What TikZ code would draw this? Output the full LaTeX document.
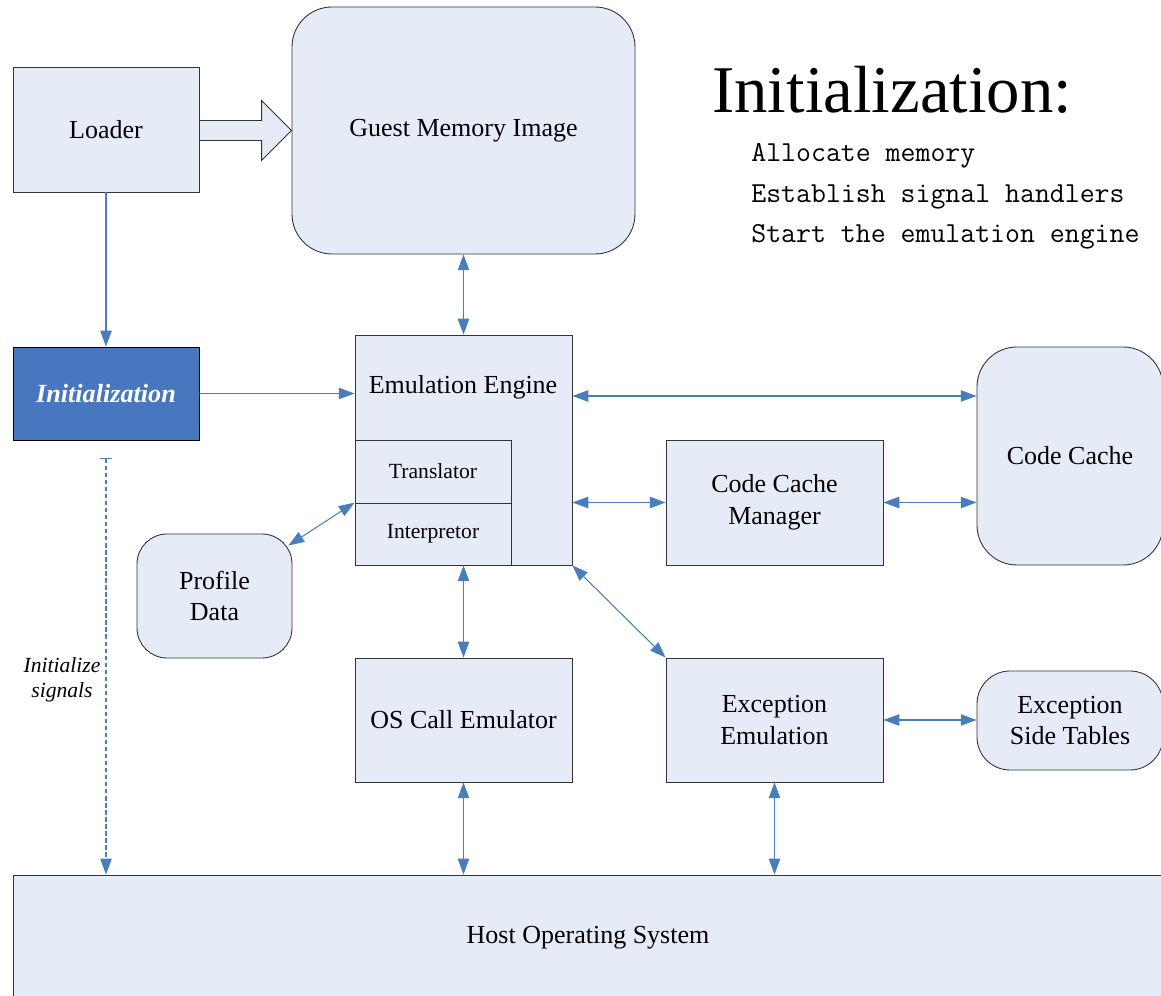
\documentclass[tikz,border=0pt]{standalone}
\usepackage{fontspec}
\setmainfont{Liberation Serif}
\usetikzlibrary{arrows.meta,calc}
\definecolor{boxfill}{HTML}{E6ECF7}
\definecolor{connblue}{HTML}{4A7EBB}
\definecolor{initfill}{HTML}{4677BF}
\begin{document}
\begin{tikzpicture}[x=0.02cm,y=-0.02cm,
  box/.style={draw=black!80, fill=boxfill, line width=0.5pt, inner sep=0pt,
    font=\fontsize{14.8}{18}\selectfont, align=center},
  rbox/.style={box, rounded corners=#1},
  sz/.style n args={2}{minimum width=#1*0.02cm, minimum height=#2*0.02cm},
  small/.style={font=\fontsize{12.3}{14}\selectfont},
  biarr/.style={draw=connblue, line width=0.6pt,
    {Triangle[length=9pt,width=6.5pt]}-{Triangle[length=9pt,width=6.5pt]}},
  onearr/.style={draw=connblue, line width=0.6pt, -{Triangle[length=9pt,width=6.5pt]}},
  bigarrow/.style={draw=black!80, fill=boxfill, line width=0.5pt},
  mono/.style={anchor=base west, inner sep=0pt, font=\ttfamily\fontsize{16.5}{20}\selectfont}
]
\useasboundingbox (0,0) rectangle (1161,996);

% nodes
\node[box, sz={186}{125}] (loader) at (106,129.5) {Loader};
\node[rbox=0.8cm, sz={343}{247}] (guest) at (463.5,130.5) {Guest Memory Image};
\node[box, draw=black, fill=initfill, text=white, sz={186}{93},
  font=\bfseries\itshape\fontsize{14.9}{18}\selectfont] (init) at (106,393.5) {Initialization};
\node[box, sz={217}{230}] (emu) at (463.5,450) {};
\node[inner sep=0pt, font=\fontsize{14.8}{18}\selectfont] (emut) at (463,387) {Emulation Engine};
\node[box, small, sz={156}{63}] (trans) at (433,471.5) {Translator};
\node[box, small, sz={156}{62}] (interp) at (433,534) {Interpretor};
\node[rbox=0.8cm, sz={186}{218}] (cc) at (1070,456) {Code Cache};
\node[box, sz={217}{125}] (ccm) at (774.5,502.5) {Code Cache\\Manager};
\node[rbox=0.6cm, sz={155}{124}] (prof) at (214.5,596) {Profile\\Data};
\node[box, sz={217}{124}] (os) at (463.5,720) {OS Call Emulator};
\node[box, sz={217}{124}] (exc) at (774.5,720) {Exception\\Emulation};
\node[rbox=0.66cm, sz={186}{99}] (est) at (1070,720.5) {Exception\\Side Tables};
\node[box, sz={1150}{126}] (host) at (588,938) {Host Operating System};

% title and steps
\node[anchor=base west, inner sep=0pt, font=\fontsize{38}{40}\selectfont] (title) at (712,113) {Initialization:};
\node[mono] (s1) at (751,162) {Allocate memory};
\node[mono] (s2) at (751,203) {Establish signal handlers};
\node[mono] (s3) at (751,243) {Start the emulation engine};

% big arrow loader -> guest
\draw[bigarrow] ($(loader.east |- guest.west)+(0,-10)$) -- ($(guest.west)+(-30,-10)$)
  -- ($(guest.west)+(-30,-30)$) -- (guest.west) -- ($(guest.west)+(-30,30)$)
  -- ($(guest.west)+(-30,10)$) -- ($(loader.east |- guest.west)+(0,10)$) -- cycle;

% connectors
\draw[onearr] (loader.south) -- (init.north);
\draw[onearr] (init.east) -- (init.east -| emu.west);
\coordinate (sigstart) at (106,458);
\draw[draw=connblue, line width=0.6pt, dash pattern=on 2.5pt off 1.5pt,
  {Bar[width=7pt]}-{Triangle[length=9pt,width=6.5pt]}] (sigstart) -- (sigstart |- host.north);
\node[inner sep=0pt, align=center, font=\itshape\fontsize{12.3}{14.2}\selectfont] (siglbl) at (62,680) {Initialize\\signals};

\draw[biarr] (guest.south) -- (emu.north);
\coordinate (ccrow) at (0,396);
\draw[biarr] (emu.east |- ccrow) -- (cc.west |- ccrow);
\draw[biarr] (ccm.west -| emu.east) -- (ccm.west);
\draw[biarr] (ccm.east) -- (ccm.east -| cc.west);
\coordinate (profc) at ($(prof.north east)+(-4,12)$);
\draw[biarr] (profc) -- (interp.north west);
\draw[biarr] (emu.south) -- (os.north);
\draw[biarr] (emu.south east) -- (exc.north west);
\draw[biarr] (exc.east) -- (exc.east -| est.west);
\draw[biarr] (os.south) -- (os.south |- host.north);
\draw[biarr] (exc.south) -- (exc.south |- host.north);
\end{tikzpicture}
\end{document}
